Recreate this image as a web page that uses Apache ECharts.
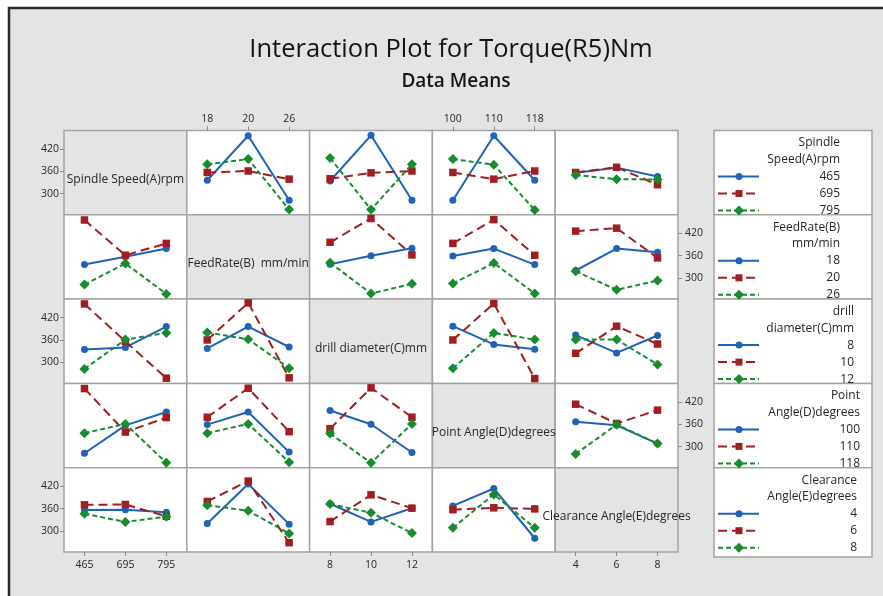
<!DOCTYPE html>
<html><head><meta charset="utf-8">
<script src="https://cdn.jsdelivr.net/npm/echarts@6/dist/echarts.min.js"></script>
<style>html,body{margin:0;padding:0;background:#fff}#c{width:883px;height:596px}</style>
</head><body><div id="c"></div>
<script>
// ---------- data ----------
const factorNames = ['Spindle Speed(A)rpm', 'FeedRate(B)  mm/min', 'drill diameter(C)mm', 'Point Angle(D)degrees', 'Clearance Angle(E)degrees'];
const levels = [['465', '695', '795'], ['18', '20', '26'], ['8', '10', '12'], ['100', '110', '118'], ['4', '6', '8']];
const legendTitles = [['Spindle', 'Speed(A)rpm'], ['FeedRate(B)', 'mm/min'], ['drill', 'diameter(C)mm'], ['Point', 'Angle(D)degrees'], ['Clearance', 'Angle(E)degrees']];
const yTickValues = [300, 360, 420];
// two-factor cell means: rows = levels of first factor, cols = levels of second factor
const meansAB = [[336, 456, 282], [357, 361, 339], [379, 393, 257]];
const meansAC = [[334, 457, 282], [340, 356, 361], [396, 257, 379]];
const meansAD = [[282, 456, 336], [357, 339, 361], [393, 378, 256]];
const meansAE = [[356, 370, 346], [357, 371, 324], [350, 339, 338]];
const meansBC = [[337, 360, 380], [396, 460, 362], [341, 258, 284]];
const meansBD = [[359, 379, 336], [393, 457, 361], [285, 340, 258]];
const meansBE = [[320, 379, 369], [426, 434, 354], [318, 268, 293]];
const meansCD = [[397, 348, 335], [360, 458, 256], [284, 379, 361]];
const meansCE = [[373, 325, 372], [324, 397, 349], [361, 361, 294]];
const meansDE = [[367, 357, 308], [414, 362, 398], [280, 359, 308]];
const pairMeans = {
  '0-1': meansAB, '0-2': meansAC, '0-3': meansAD, '0-4': meansAE,
  '1-2': meansBC, '1-3': meansBD, '1-4': meansBE,
  '2-3': meansCD, '2-4': meansCE, '3-4': meansDE
};

// ---------- layout / style ----------
const FONT = "'Open Sans', 'Noto Sans', sans-serif";
const X0 = 64, CW = 122.8, Y0 = 130.5, RH = 84.3;
const YMIN = 243, YMAX = 470;
const COLORS = ['#1f62b8', '#a01e22', '#178c2e'];
const SYMBOLS = ['circle', 'rect', 'diamond'];
const SYMSIZE = [7, 7.5, 10];
const DASH = ['solid', [9, 5], [5, 3]];
const LEG_X = 714, LEG_W = 158, LEG_RIGHT = [840, 840, 854, 860, 857];
const TXT = '#262626';

function cellValues(i, j, s) {
  if (i < j) return pairMeans[i + '-' + j][s].slice();
  return pairMeans[j + '-' + i].map(r => r[s]);
}

const grids = [], xAxes = [], yAxes = [], series = [], graphic = [];
for (let i = 0; i < 5; i++) {
  for (let j = 0; j < 5; j++) {
    const idx = i * 5 + j;
    grids.push({
      left: X0 + j * CW, top: Y0 + i * RH, width: CW, height: RH,
      show: true, backgroundColor: i === j ? '#e4e4e4' : '#ffffff',
      borderColor: '#a3a3a3', borderWidth: 1.5, containLabel: false
    });
    const topLab = (i === 0 && (j === 1 || j === 3));
    const botLab = (i === 4 && (j === 0 || j === 2 || j === 4));
    xAxes.push({
      gridIndex: idx, type: 'category', data: levels[j], boundaryGap: true,
      position: topLab ? 'top' : 'bottom',
      axisLine: { show: false },
      axisTick: { show: topLab || botLab, alignWithLabel: true, length: 4, lineStyle: { color: '#8a8a8a' } },
      axisLabel: { show: topLab || botLab, fontSize: 10.5, fontFamily: FONT, color: TXT, margin: topLab ? 6 : 8 },
      splitLine: { show: false }
    });
    const leftLab = (j === 0 && i % 2 === 0);
    const rightLab = (j === 4 && i % 2 === 1);
    yAxes.push({
      gridIndex: idx, type: 'value', min: YMIN, max: YMAX,
      position: rightLab ? 'right' : 'left',
      axisLine: { show: false },
      axisTick: { show: leftLab || rightLab, length: 4, customValues: yTickValues, lineStyle: { color: '#8a8a8a' } },
      axisLabel: { show: leftLab || rightLab, customValues: yTickValues, fontSize: 10.5, fontFamily: FONT, color: TXT, margin: rightLab ? 7 : 5 },
      splitLine: { show: false }
    });
    if (i === j) {
      graphic.push({
        type: 'text', z: 100,
        style: {
          text: factorNames[i], x: X0 + j * CW + CW / 2, y: Y0 + i * RH + RH / 2 + 7,
          align: 'center', verticalAlign: 'middle', textAlign: 'center', textVerticalAlign: 'middle',
          fontSize: 12, fontFamily: FONT, fill: TXT
        }
      });
    } else {
      for (let s = 0; s < 3; s++) {
        series.push({
          type: 'line', xAxisIndex: idx, yAxisIndex: idx, name: levels[i][s],
          data: cellValues(i, j, s),
          symbol: SYMBOLS[s], symbolSize: SYMSIZE[s], z: 2 + s,
          lineStyle: { color: COLORS[s], width: 2, type: DASH[s] },
          itemStyle: { color: COLORS[s] },
          animation: false, silent: true
        });
      }
    }
  }
}

// legends (one per row factor)
for (let i = 0; i < 5; i++) {
  const top = Y0 + i * RH;
  const h = i === 4 ? RH + 5 : RH;
  graphic.push({ type: 'rect', z: 50, shape: { x: LEG_X, y: top, width: LEG_W, height: h },
    style: { fill: '#ffffff', stroke: '#a3a3a3', lineWidth: 1.5 } });
  const rx = LEG_RIGHT[i];
  [12.5, 29].forEach((dy, k) => graphic.push({ type: 'text', z: 60,
    style: { text: legendTitles[i][k], x: rx, y: top + dy, align: 'right', verticalAlign: 'middle', textAlign: 'right', textVerticalAlign: 'middle', fontSize: 12, fontFamily: FONT, fill: TXT } }));
  [46, 63, 80].forEach((dy, s) => {
    const y = top + dy;
    graphic.push({ type: 'line', z: 60, shape: { x1: 718, y1: y, x2: 759, y2: y },
      style: { stroke: COLORS[s], lineWidth: 2, lineDash: s === 0 ? null : DASH[s] } });
    if (s === 0) graphic.push({ type: 'circle', z: 61, shape: { cx: 739, cy: y, r: 3.5 }, style: { fill: COLORS[s] } });
    if (s === 1) graphic.push({ type: 'rect', z: 61, shape: { x: 735.5, y: y - 3.5, width: 7, height: 7 }, style: { fill: COLORS[s] } });
    if (s === 2) graphic.push({ type: 'polygon', z: 61, shape: { points: [[739, y - 5], [744, y], [739, y + 5], [734, y]] }, style: { fill: COLORS[s] } });
    graphic.push({ type: 'text', z: 60,
      style: { text: levels[i][s], x: rx, y: y, align: 'right', verticalAlign: 'middle', textAlign: 'right', textVerticalAlign: 'middle', fontSize: 12, fontFamily: FONT, fill: TXT } });
  });
}

// outer frame
graphic.push({ type: 'rect', z: 200, shape: { x: 0, y: 0, width: 8, height: 596 }, style: { fill: '#ffffff' } });
graphic.push({ type: 'rect', z: 200, shape: { x: 0, y: 0, width: 883, height: 7 }, style: { fill: '#ffffff' } });
graphic.push({ type: 'rect', z: 201, shape: { x: 9, y: 8, width: 900, height: 700 }, style: { fill: null, stroke: '#2a2a2a', lineWidth: 2.5 } });

const chart = echarts.init(document.getElementById('c'), null, { renderer: 'canvas' });
chart.setOption({
  animation: false,
  backgroundColor: '#e4e4e4',
  title: [
    { text: 'Interaction Plot for Torque(R5)Nm', left: 446, top: 32, textAlign: 'center',
      textStyle: { fontSize: 25.5, fontWeight: 'normal', color: '#141414', fontFamily: FONT } },
    { text: 'Data Means', left: 451, top: 67, textAlign: 'center',
      textStyle: { fontSize: 19, fontWeight: 600, color: '#141414', fontFamily: FONT } }
  ],
  grid: grids, xAxis: xAxes, yAxis: yAxes, series: series, graphic: graphic
});
</script></body></html>
